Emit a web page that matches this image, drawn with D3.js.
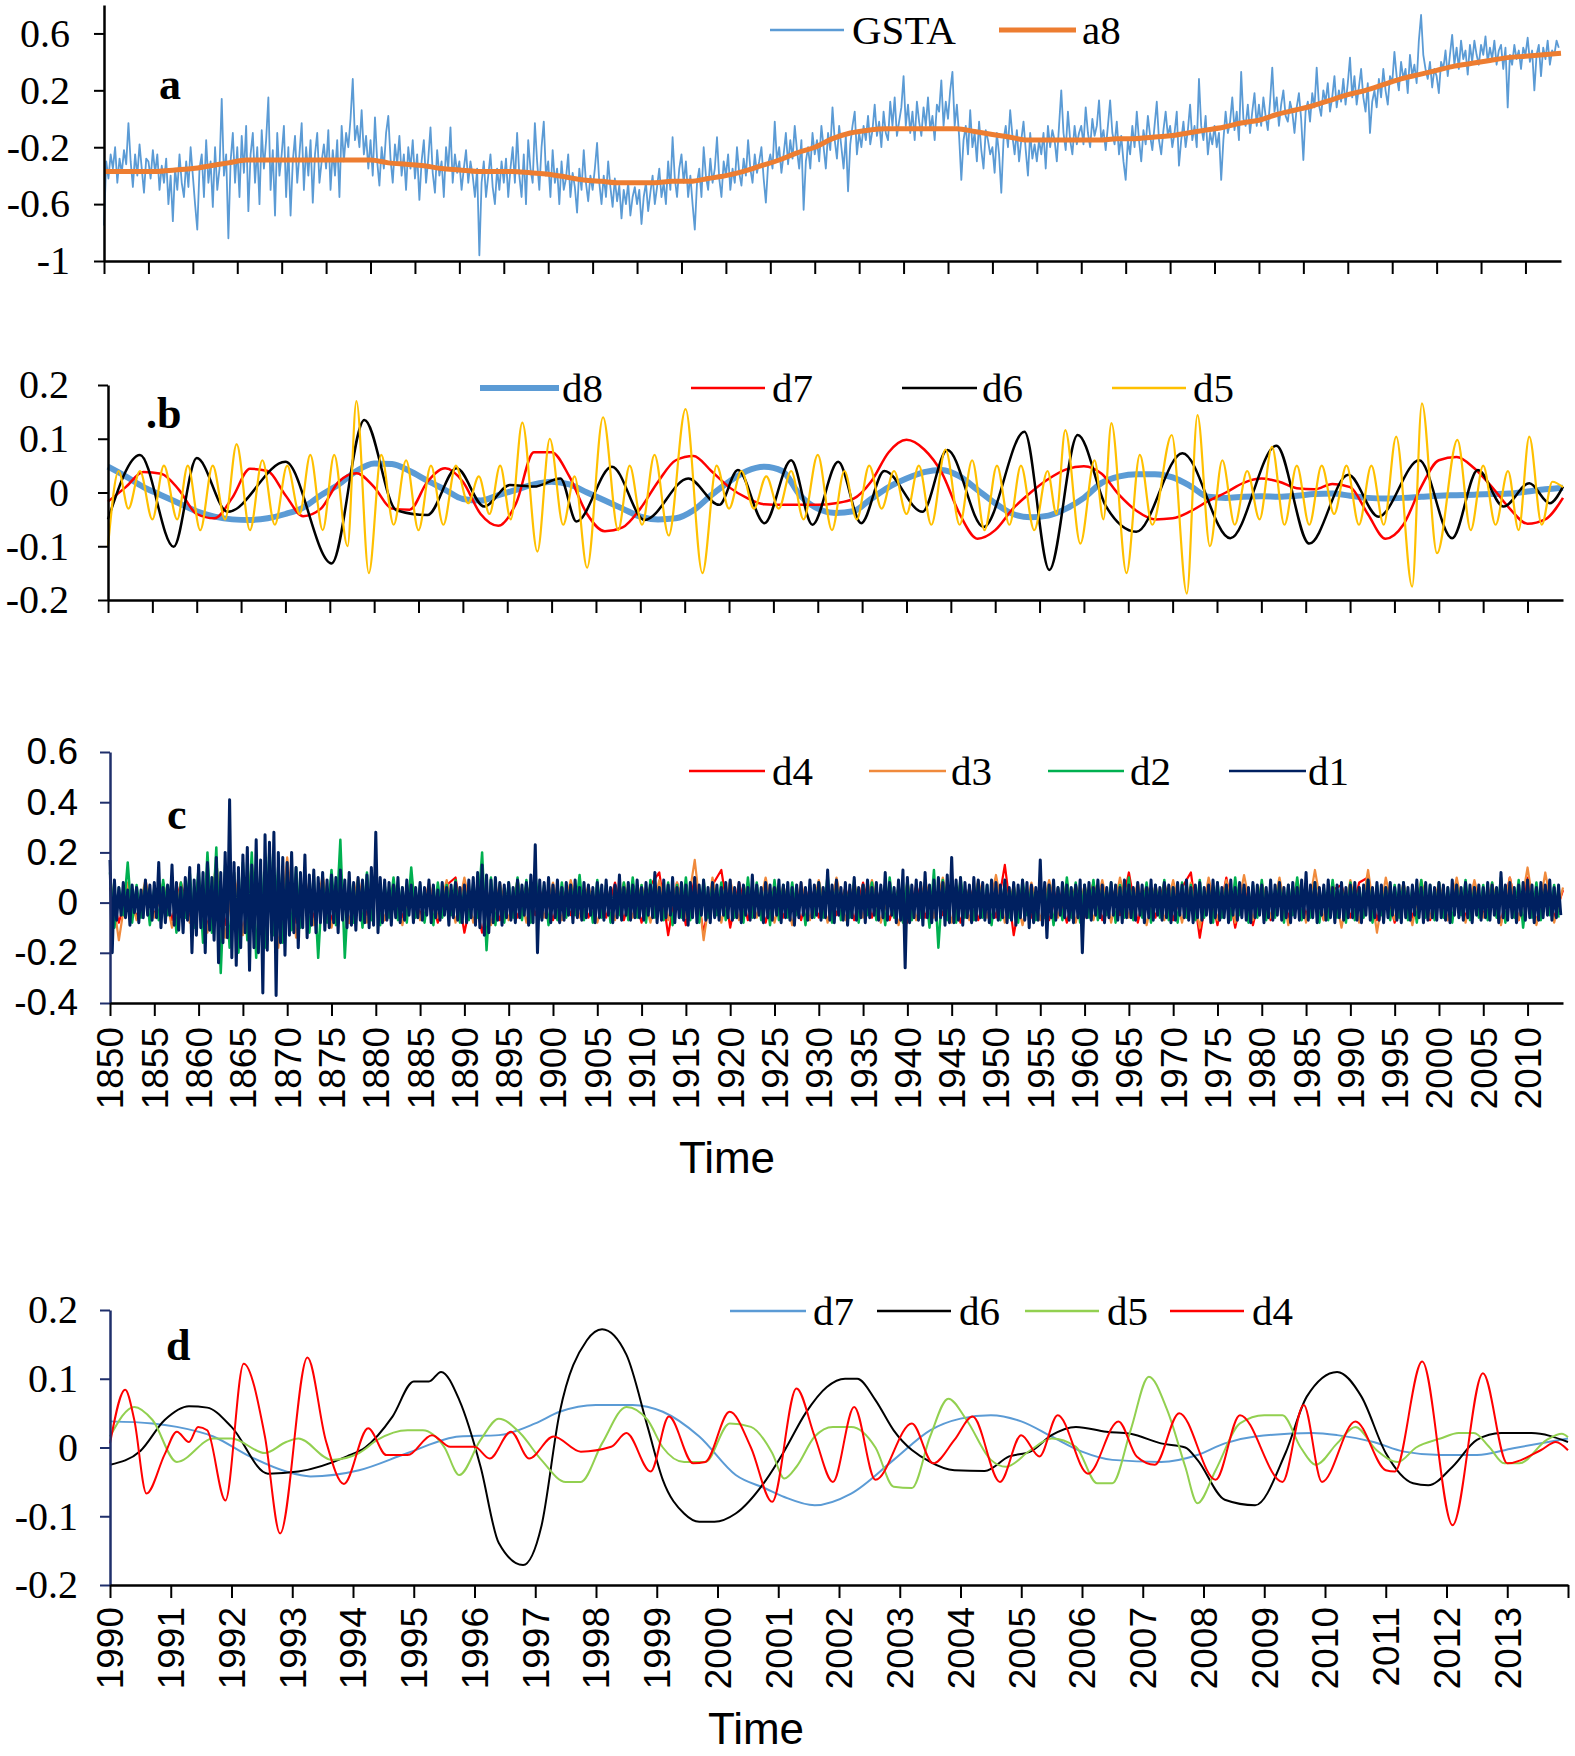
<!DOCTYPE html>
<html>
<head>
<meta charset="utf-8">
<script src="https://cdn.jsdelivr.net/npm/d3@7"></script>
<style>
  body { margin: 0; background: #fff; }
  svg { display: block; }
</style>
</head>
<body>
<svg id="chart" width="1575" height="1756"></svg>
<script>
// ---- data ----
// panel a : GSTA, quarterly from 1850
const gstaStart = 1850, gstaStep = 0.25;
const gsta = [
  -0.75,-0.30,-0.42,-0.25,-0.35,-0.20,-0.45,-0.28,-0.38,-0.22,-0.32,-0.03,-0.30,-0.48,-0.25,-0.40,-0.18,-0.35,-0.52,-0.28,
  -0.30,-0.42,-0.22,-0.38,-0.25,-0.50,-0.33,-0.45,-0.28,-0.60,-0.40,-0.72,-0.35,-0.50,-0.25,-0.45,-0.55,-0.30,-0.48,-0.20,
  -0.40,-0.60,-0.78,-0.35,-0.25,-0.55,-0.15,-0.45,-0.30,-0.62,-0.20,-0.50,-0.35,0.14,-0.40,-0.25,-0.84,-0.30,-0.10,-0.45,
  -0.20,-0.55,-0.12,-0.38,-0.05,-0.65,-0.25,-0.10,-0.45,-0.20,-0.60,-0.08,-0.35,-0.15,0.15,-0.50,-0.22,-0.68,-0.10,-0.40,
  -0.25,-0.05,-0.55,-0.20,-0.68,-0.30,-0.12,-0.45,-0.25,-0.03,-0.50,-0.20,-0.40,-0.15,-0.59,-0.25,-0.10,-0.45,-0.30,-0.18,
  -0.35,-0.08,-0.50,-0.22,-0.40,-0.15,-0.55,-0.05,-0.30,-0.10,-0.20,0.00,0.28,-0.15,-0.05,-0.20,0.06,-0.25,-0.12,-0.35,
  -0.15,-0.40,0.01,-0.30,-0.47,-0.20,-0.35,-0.10,0.02,-0.28,-0.45,-0.18,-0.32,-0.12,-0.40,-0.25,-0.50,-0.20,-0.35,-0.15,
  -0.42,-0.25,-0.57,-0.30,-0.15,-0.45,-0.28,-0.06,-0.38,-0.52,-0.22,-0.40,-0.30,-0.55,-0.20,-0.35,-0.06,-0.45,-0.25,-0.38,
  -0.30,-0.50,-0.35,-0.22,-0.45,-0.30,-0.40,-0.55,-0.35,-0.96,-0.45,-0.30,-0.55,-0.40,-0.25,-0.48,-0.60,-0.35,-0.50,-0.30,
  -0.45,-0.28,-0.55,-0.35,-0.20,-0.45,-0.10,-0.40,-0.55,-0.25,-0.60,-0.15,-0.35,-0.45,-0.03,-0.30,-0.50,-0.20,-0.02,-0.40,
  -0.30,-0.55,-0.22,-0.45,-0.35,-0.60,-0.30,-0.50,-0.42,-0.25,-0.55,-0.38,-0.48,-0.66,-0.35,-0.50,-0.22,-0.45,-0.58,-0.40,
  -0.50,-0.35,-0.17,-0.45,-0.60,-0.40,-0.55,-0.30,-0.48,-0.62,-0.42,-0.58,-0.47,-0.70,-0.50,-0.60,-0.45,-0.68,-0.55,-0.48,
  -0.60,-0.50,-0.74,-0.55,-0.45,-0.65,-0.52,-0.40,-0.60,-0.48,-0.35,-0.55,-0.45,-0.60,-0.30,-0.50,-0.13,-0.42,-0.55,-0.35,
  -0.25,-0.45,-0.30,-0.55,-0.40,-0.60,-0.78,-0.45,-0.35,-0.55,-0.20,-0.40,-0.50,-0.28,-0.45,-0.35,-0.13,-0.42,-0.55,-0.30,
  -0.40,-0.25,-0.50,-0.35,-0.45,-0.20,-0.38,-0.47,-0.28,-0.40,-0.15,-0.35,-0.45,-0.25,-0.38,-0.30,-0.20,-0.42,-0.59,-0.32,
  -0.25,-0.35,-0.02,-0.30,-0.20,-0.38,-0.25,-0.10,-0.32,-0.15,-0.28,-0.05,-0.22,-0.35,-0.15,-0.64,-0.30,-0.20,-0.35,-0.10,
  -0.25,-0.15,-0.30,-0.05,-0.20,-0.35,-0.10,-0.22,0.08,-0.15,-0.28,-0.05,-0.20,-0.35,-0.12,-0.51,-0.18,-0.05,0.05,-0.25,
  -0.10,-0.20,-0.05,-0.15,0.02,-0.18,-0.08,0.10,-0.12,-0.02,-0.20,0.05,-0.10,-0.15,0.12,-0.05,0.15,-0.12,-0.02,0.08,
  0.30,-0.05,0.10,-0.10,0.05,-0.15,0.12,-0.02,-0.12,0.08,-0.05,0.15,-0.08,0.02,-0.15,0.10,0.05,0.27,-0.05,0.12,
  0.00,0.20,0.33,-0.05,0.10,-0.12,-0.43,-0.15,-0.05,-0.25,0.06,-0.20,-0.10,-0.30,-0.02,-0.22,-0.35,-0.08,-0.15,-0.25,
  -0.20,-0.38,-0.10,-0.25,-0.52,-0.15,-0.05,-0.20,0.06,-0.12,-0.25,-0.08,-0.30,-0.15,-0.02,-0.22,-0.40,-0.10,-0.28,-0.18,
  -0.30,-0.15,-0.25,-0.10,-0.35,-0.05,-0.20,-0.08,-0.15,-0.30,-0.05,0.20,-0.10,-0.22,0.05,-0.15,-0.25,-0.05,-0.18,-0.10,
  -0.05,-0.18,0.08,-0.10,-0.20,0.00,-0.12,-0.05,0.13,-0.15,-0.08,-0.22,-0.05,0.13,-0.10,-0.18,-0.02,-0.25,-0.12,-0.30,
  -0.43,-0.15,-0.25,-0.05,-0.20,0.05,-0.15,-0.30,-0.08,-0.18,0.02,-0.12,-0.22,-0.05,0.12,-0.15,-0.25,-0.08,0.05,-0.12,
  -0.05,-0.20,-0.10,0.05,-0.33,-0.15,-0.02,-0.20,-0.08,0.10,-0.15,-0.05,-0.20,0.28,-0.05,-0.15,0.02,-0.25,-0.10,-0.18,
  -0.05,-0.20,-0.10,-0.43,-0.15,0.05,-0.10,-0.02,0.15,-0.08,0.05,-0.15,0.33,0.00,-0.05,0.10,-0.10,0.05,0.18,-0.05,
  0.10,-0.05,0.15,0.02,-0.08,0.12,0.36,0.05,0.15,-0.05,0.10,0.20,0.02,-0.02,0.12,0.05,-0.10,0.08,0.18,0.00,
  -0.29,0.05,0.12,-0.02,0.18,0.08,0.36,0.10,0.02,0.20,0.12,0.25,0.05,0.15,0.30,0.08,0.20,0.12,0.28,0.10,
  0.25,0.43,0.15,0.30,0.10,0.22,0.35,0.15,0.05,0.25,-0.10,0.12,0.20,0.08,0.28,0.15,0.35,0.20,0.10,0.30,
  0.25,0.47,0.30,0.20,0.40,0.28,0.35,0.18,0.45,0.30,0.38,0.25,0.55,0.73,0.45,0.35,0.28,0.40,0.22,0.35,
  0.30,0.18,0.40,0.35,0.48,0.30,0.45,0.59,0.38,0.50,0.35,0.55,0.42,0.48,0.31,0.52,0.40,0.55,0.45,0.38,
  0.52,0.45,0.58,0.40,0.50,0.42,0.55,0.38,0.48,0.52,0.35,0.50,0.08,0.45,0.38,0.52,0.42,0.48,0.35,0.50,
  0.45,0.57,0.40,0.48,0.20,0.45,0.52,0.30,0.50,0.42,0.55,0.38,0.48,0.45,0.55,0.50
];
// panel a : a8, every 2 years from 1850
const a8Start = 1850, a8Step = 2;
const a8 = [
  -0.37,-0.37,-0.37,-0.37,-0.36,-0.35,-0.33,-0.31,-0.29,-0.29,-0.29,-0.29,-0.29,-0.29,-0.29,-0.29,
  -0.31,-0.32,-0.33,-0.35,-0.36,-0.37,-0.37,-0.37,-0.38,-0.39,-0.41,-0.43,-0.44,-0.45,-0.45,-0.45,
  -0.44,-0.44,-0.42,-0.40,-0.37,-0.33,-0.29,-0.24,-0.20,-0.14,-0.10,-0.08,-0.07,-0.07,-0.07,-0.07,
  -0.07,-0.09,-0.11,-0.13,-0.15,-0.15,-0.15,-0.15,-0.15,-0.14,-0.14,-0.13,-0.12,-0.10,-0.08,-0.06,
  -0.03,-0.01,0.03,0.06,0.09,0.13,0.17,0.20,0.24,0.28,0.31,0.34,0.37,0.39,0.41,0.43,0.44,0.45,0.46
];

// panel b : d8 and d7 every 2 years from 1850
const bStart = 1850, bStep = 2;
const bD8 = [
  0.048,0.030,0.010,-0.005,-0.020,-0.035,-0.045,-0.050,-0.051,-0.048,-0.040,-0.028,-0.005,0.015,0.040,0.054,
  0.053,0.040,0.022,0.005,-0.012,-0.015,-0.005,0.005,0.015,0.020,0.015,0.000,-0.015,-0.030,-0.045,-0.050,
  -0.048,-0.033,-0.005,0.020,0.040,0.048,0.040,-0.005,-0.030,-0.038,-0.035,-0.012,0.010,0.026,0.038,0.042,
  0.030,0.005,-0.020,-0.040,-0.046,-0.043,-0.030,-0.010,0.018,0.030,0.034,0.034,0.028,0.012,-0.008,-0.010,
  -0.008,-0.007,-0.008,-0.006,-0.003,-0.002,-0.006,-0.010,-0.011,-0.010,-0.008,-0.006,-0.005,-0.004,-0.003,-0.002,0.002,0.006,0.009
];
const bD7 = [
  -0.017,0.010,0.038,0.035,0.005,-0.040,-0.048,-0.010,0.044,0.040,-0.005,-0.044,-0.030,0.020,0.036,0.010,
  -0.030,-0.032,0.020,0.045,0.020,-0.040,-0.062,-0.020,0.075,0.075,0.030,-0.040,-0.072,-0.065,-0.030,0.020,
  0.060,0.068,0.040,0.010,-0.010,-0.022,-0.023,-0.023,-0.023,-0.020,-0.012,0.020,0.075,0.098,0.080,0.036,
  -0.040,-0.086,-0.070,-0.030,0.000,0.025,0.043,0.049,0.035,-0.005,-0.035,-0.050,-0.048,-0.035,-0.016,0.000,
  0.018,0.026,0.020,0.008,0.006,0.016,0.010,-0.040,-0.086,-0.060,0.010,0.060,0.066,0.045,0.010,-0.030,-0.058,-0.050,-0.010
];
// panel b : d6 and d5 turning points [year, value]
const bD6 = [
  [1850,-0.050],[1853.6,0.070],[1857.4,-0.101],[1860,0.064],[1863.5,-0.036],[1870,0.057],[1875.2,-0.132],
  [1878.9,0.135],[1882.5,-0.033],[1886,-0.042],[1889.3,0.045],[1892.4,-0.026],[1895.3,0.014],[1898,0.011],
  [1901,0.026],[1902.8,-0.054],[1906.8,0.048],[1910.5,-0.051],[1915.4,0.026],[1918.9,-0.023],[1921,0.042],
  [1924,-0.057],[1927,0.060],[1929.4,-0.060],[1932.3,0.057],[1934.9,-0.057],[1937.5,0.040],[1941.8,-0.036],
  [1944.6,0.079],[1948.7,-0.064],[1953.3,0.113],[1956.1,-0.144],[1959.3,0.107],[1962.5,-0.026],[1965.9,-0.073],
  [1971.1,0.073],[1976.5,-0.085],[1981.7,0.087],[1985.4,-0.095],[1989.8,0.033],[1993.2,-0.045],[1997.8,0.060],
  [2001.5,-0.085],[2004.4,0.042],[2007.3,-0.026],[2010.2,0.017],[2012.5,-0.020],[2014,0.011]
];
const bD5 = [
  [1850.0,-0.10],[1851.2,0.04],[1852.3,-0.03],[1853.6,0.04],[1855.0,-0.05],[1856.3,0.05],[1857.8,-0.05],
  [1859.0,0.05],[1860.4,-0.07],[1861.8,0.05],[1863.2,-0.05],[1864.5,0.09],[1866.0,-0.07],[1867.4,0.06],
  [1868.8,-0.06],[1870.2,0.05],[1871.6,-0.04],[1872.8,0.07],[1874.2,-0.07],[1875.5,0.07],[1877.0,-0.10],
  [1878.0,0.17],[1879.4,-0.15],[1880.8,0.07],[1882.2,-0.06],[1883.6,0.06],[1885.0,-0.07],[1886.4,0.05],
  [1887.8,-0.06],[1889.2,0.05],[1890.6,-0.02],[1891.8,0.03],[1893.0,-0.04],[1894.2,0.05],[1895.4,-0.05],
  [1896.7,0.13],[1898.4,-0.11],[1899.8,0.10],[1901.3,-0.06],[1902.6,0.03],[1904.0,-0.14],[1905.8,0.14],
  [1907.5,-0.07],[1908.8,0.05],[1910.2,-0.06],[1911.6,0.07],[1913.2,-0.08],[1915.1,0.155],[1917.0,-0.15],
  [1918.6,0.05],[1920.0,-0.03],[1921.4,0.04],[1922.8,-0.03],[1924.2,0.03],[1925.6,-0.03],[1927.0,0.04],
  [1928.4,-0.05],[1930.0,0.07],[1931.6,-0.07],[1933.0,0.04],[1934.4,-0.05],[1935.8,0.05],[1937.2,-0.03],
  [1938.6,0.04],[1940.0,-0.04],[1941.4,0.05],[1942.8,-0.06],[1944.4,0.08],[1946.0,-0.06],[1947.4,0.06],
  [1948.8,-0.07],[1950.2,0.05],[1951.6,-0.06],[1952.9,0.05],[1954.4,-0.07],[1955.9,0.04],[1956.9,-0.04],
  [1957.9,0.116],[1959.6,-0.095],[1961.2,0.06],[1962.2,-0.05],[1963.1,0.129],[1964.8,-0.150],[1966.3,0.07],
  [1967.7,-0.06],[1969.9,0.107],[1971.6,-0.188],[1972.8,0.144],[1974.2,-0.10],[1975.6,0.06],[1977.0,-0.06],
  [1978.4,0.04],[1979.8,-0.05],[1981.2,0.085],[1982.6,-0.06],[1984.0,0.05],[1985.4,-0.06],[1986.8,0.05],
  [1988.2,-0.04],[1989.6,0.05],[1991.0,-0.06],[1992.4,0.05],[1993.8,-0.06],[1995.2,0.104],[1997.0,-0.175],
  [1998.1,0.166],[1999.8,-0.113],[2002.1,0.098],[2003.6,-0.07],[2005.0,0.05],[2006.4,-0.06],[2007.8,0.04],
  [2009.0,-0.07],[2010.2,0.104],[2011.6,-0.06],[2012.8,0.02],[2014.0,0.01]
];

// panel c : d1 quarterly, d2 half-yearly, d3 and d4 yearly, from 1850
const cStart = 1850;
const cD1 = [
  0.17,-0.20,0.09,-0.07,0.06,-0.05,0.08,-0.06,0.05,-0.09,0.07,-0.04,0.06,-0.08,0.05,-0.06,0.09,-0.05,0.07,-0.07,
  0.08,-0.06,0.16,-0.10,0.06,-0.08,0.07,-0.05,0.15,-0.09,0.08,-0.11,0.06,-0.12,0.10,-0.07,0.14,-0.20,0.09,-0.13,
  0.15,-0.10,0.12,-0.20,0.16,-0.11,0.10,-0.15,0.18,-0.24,0.12,-0.16,0.20,-0.14,0.41,-0.22,0.16,-0.25,0.14,-0.18,
  0.19,-0.12,0.22,-0.27,0.15,-0.18,0.25,-0.20,0.17,-0.36,0.27,-0.19,0.24,-0.15,0.28,-0.37,0.20,-0.16,0.18,-0.21,
  0.16,-0.13,0.20,-0.12,0.14,-0.18,0.12,-0.10,0.19,-0.14,0.11,-0.09,0.13,-0.12,0.10,-0.08,0.12,-0.11,0.09,-0.10,
  0.11,-0.08,0.10,-0.12,0.13,-0.07,0.09,-0.10,0.12,-0.09,0.08,-0.11,0.10,-0.07,0.09,-0.08,0.11,-0.10,0.14,-0.09,
  0.28,-0.12,0.10,-0.08,0.09,-0.07,0.08,-0.09,0.07,-0.06,0.10,-0.08,0.06,-0.07,0.09,-0.05,0.07,-0.08,0.06,-0.06,
  0.08,-0.07,0.06,-0.05,0.09,-0.08,0.07,-0.06,0.05,-0.07,0.08,-0.05,0.06,-0.09,0.07,-0.06,0.08,-0.07,0.06,-0.08,
  0.07,-0.08,0.09,-0.06,0.10,-0.09,0.12,-0.10,0.15,-0.13,0.11,-0.12,0.09,-0.08,0.10,-0.07,0.08,-0.09,0.07,-0.06,
  0.08,-0.07,0.06,-0.08,0.09,-0.06,0.07,-0.05,0.08,-0.09,0.11,-0.08,0.23,-0.20,0.09,-0.07,0.08,-0.06,0.10,-0.08,
  0.07,-0.06,0.09,-0.08,0.06,-0.07,0.08,-0.05,0.07,-0.08,0.09,-0.06,0.06,-0.07,0.08,-0.06,0.07,-0.05,0.06,-0.08,
  0.08,-0.06,0.07,-0.07,0.09,-0.05,0.06,-0.08,0.07,-0.06,0.11,-0.07,0.06,-0.05,0.08,-0.07,0.07,-0.06,0.09,-0.06,
  0.06,-0.07,0.08,-0.05,0.07,-0.06,0.12,-0.08,0.06,-0.07,0.09,-0.06,0.07,-0.05,0.10,-0.08,0.06,-0.06,0.08,-0.07,
  0.07,-0.09,0.08,-0.06,0.10,-0.08,0.07,-0.05,0.09,-0.07,0.06,-0.08,0.08,-0.06,0.07,-0.07,0.06,-0.05,0.08,-0.06,
  0.09,-0.07,0.06,-0.06,0.08,-0.08,0.07,-0.05,0.06,-0.07,0.11,-0.06,0.07,-0.05,0.06,-0.08,0.08,-0.06,0.07,-0.07,
  0.06,-0.05,0.09,-0.08,0.07,-0.06,0.08,-0.07,0.06,-0.09,0.07,-0.06,0.08,-0.05,0.06,-0.07,0.09,-0.06,0.07,-0.05,
  0.08,-0.07,0.06,-0.06,0.13,-0.07,0.07,-0.08,0.09,-0.05,0.06,-0.07,0.08,-0.09,0.07,-0.06,0.10,-0.07,0.06,-0.06,
  0.07,-0.08,0.09,-0.06,0.06,-0.05,0.08,-0.07,0.07,-0.06,0.12,-0.07,0.08,-0.05,0.06,-0.08,0.09,-0.07,0.13,-0.26,
  0.10,-0.08,0.07,-0.06,0.09,-0.07,0.08,-0.09,0.12,-0.06,0.07,-0.08,0.09,-0.07,0.10,-0.06,0.08,-0.09,0.11,-0.08,
  0.18,-0.08,0.09,-0.07,0.10,-0.09,0.08,-0.06,0.07,-0.08,0.10,-0.07,0.09,-0.06,0.08,-0.07,0.07,-0.08,0.09,-0.06,
  0.08,-0.07,0.07,-0.06,0.09,-0.08,0.06,-0.07,0.08,-0.09,0.07,-0.06,0.09,-0.07,0.08,-0.10,0.07,-0.08,0.06,-0.07,
  0.17,-0.09,0.08,-0.14,0.07,-0.06,0.09,-0.07,0.06,-0.05,0.08,-0.06,0.07,-0.07,0.06,-0.08,0.07,-0.06,0.09,-0.20,
  0.07,-0.06,0.08,-0.07,0.06,-0.05,0.09,-0.06,0.07,-0.08,0.06,-0.06,0.08,-0.05,0.07,-0.07,0.06,-0.08,0.09,-0.06,
  0.07,-0.06,0.06,-0.07,0.08,-0.05,0.07,-0.08,0.06,-0.06,0.09,-0.07,0.07,-0.05,0.06,-0.07,0.08,-0.06,0.07,-0.08,
  0.06,-0.07,0.08,-0.05,0.07,-0.06,0.09,-0.07,0.06,-0.08,0.07,-0.06,0.08,-0.07,0.06,-0.05,0.07,-0.08,0.09,-0.06,
  0.08,-0.07,0.06,-0.06,0.07,-0.08,0.09,-0.05,0.06,-0.07,0.08,-0.06,0.07,-0.07,0.06,-0.08,0.08,-0.06,0.07,-0.05,
  0.07,-0.08,0.06,-0.06,0.09,-0.07,0.07,-0.05,0.08,-0.07,0.06,-0.06,0.07,-0.08,0.08,-0.06,0.06,-0.07,0.09,-0.06,
  0.12,-0.07,0.07,-0.06,0.08,-0.08,0.06,-0.05,0.07,-0.07,0.09,-0.06,0.06,-0.08,0.07,-0.06,0.08,-0.07,0.06,-0.06,
  0.07,-0.06,0.08,-0.07,0.06,-0.08,0.07,-0.05,0.09,-0.07,0.06,-0.06,0.08,-0.07,0.07,-0.08,0.06,-0.06,0.08,-0.05,
  0.06,-0.07,0.07,-0.08,0.08,-0.06,0.06,-0.07,0.07,-0.05,0.09,-0.06,0.06,-0.08,0.08,-0.07,0.07,-0.06,0.06,-0.07,
  0.08,-0.06,0.07,-0.07,0.06,-0.08,0.09,-0.05,0.07,-0.06,0.06,-0.07,0.08,-0.06,0.07,-0.08,0.06,-0.05,0.07,-0.07,
  0.06,-0.06,0.08,-0.07,0.07,-0.05,0.06,-0.08,0.12,-0.06,0.07,-0.07,0.08,-0.06,0.06,-0.08,0.07,-0.05,0.08,-0.07,
  0.09,-0.06,0.07,-0.08,0.06,-0.07,0.08,-0.06,0.07,-0.05,0.09,-0.07,0.06,-0.06,0.07,-0.05
];
const cD2 = [
  0.12,-0.10,0.06,-0.05,0.16,-0.08,0.07,-0.06,0.08,-0.09,
  0.06,-0.07,0.09,-0.05,0.10,-0.12,0.08,-0.06,0.12,-0.10,
  0.14,-0.16,0.20,-0.12,0.22,-0.28,0.15,-0.18,0.12,-0.20,
  0.16,-0.15,0.20,-0.22,0.14,-0.18,0.22,-0.13,0.15,-0.16,
  0.12,-0.11,0.14,-0.10,0.10,-0.12,0.11,-0.22,0.09,-0.08,
  0.13,-0.09,0.25,-0.22,0.10,-0.08,0.09,-0.10,0.12,-0.07,
  0.08,-0.09,0.07,-0.06,0.10,-0.07,0.06,-0.08,0.14,-0.06,
  0.07,-0.08,0.06,-0.09,0.08,-0.06,0.07,-0.05,0.09,-0.08,
  0.06,-0.07,0.08,-0.06,0.20,-0.19,0.10,-0.09,0.07,-0.08,
  0.08,-0.06,0.10,-0.07,0.09,-0.08,0.12,-0.06,0.07,-0.09,
  0.06,-0.07,0.08,-0.06,0.07,-0.05,0.11,-0.07,0.06,-0.08,
  0.09,-0.06,0.07,-0.08,0.06,-0.05,0.08,-0.07,0.10,-0.06,
  0.07,-0.08,0.09,-0.06,0.06,-0.07,0.08,-0.09,0.07,-0.06,
  0.10,-0.07,0.06,-0.08,0.09,-0.06,0.07,-0.05,0.08,-0.07,
  0.06,-0.06,0.07,-0.08,0.10,-0.06,0.08,-0.07,0.06,-0.09,
  0.09,-0.07,0.07,-0.06,0.08,-0.05,0.06,-0.09,0.07,-0.06,
  0.08,-0.06,0.11,-0.08,0.07,-0.07,0.06,-0.06,0.09,-0.08,
  0.07,-0.05,0.08,-0.07,0.06,-0.09,0.10,-0.06,0.07,-0.08,
  0.09,-0.07,0.06,-0.06,0.08,-0.10,0.13,-0.18,0.09,-0.07,
  0.07,-0.08,0.10,-0.06,0.06,-0.07,0.08,-0.06,0.07,-0.09,
  0.06,-0.07,0.08,-0.06,0.07,-0.08,0.09,-0.05,0.06,-0.07,
  0.08,-0.06,0.07,-0.09,0.06,-0.07,0.10,-0.06,0.08,-0.08,
  0.07,-0.06,0.09,-0.07,0.06,-0.05,0.08,-0.08,0.07,-0.06,
  0.10,-0.07,0.06,-0.06,0.08,-0.08,0.07,-0.06,0.09,-0.07,
  0.06,-0.08,0.08,-0.06,0.07,-0.07,0.09,-0.06,0.06,-0.08,
  0.08,-0.06,0.07,-0.07,0.10,-0.05,0.06,-0.08,0.07,-0.06,
  0.09,-0.07,0.06,-0.06,0.08,-0.08,0.07,-0.05,0.10,-0.07,
  0.07,-0.06,0.08,-0.08,0.06,-0.07,0.09,-0.06,0.07,-0.08,
  0.08,-0.07,0.06,-0.06,0.09,-0.08,0.07,-0.05,0.06,-0.07,
  0.07,-0.06,0.08,-0.07,0.06,-0.08,0.09,-0.06,0.07,-0.07,
  0.08,-0.06,0.06,-0.08,0.07,-0.05,0.09,-0.07,0.06,-0.06,
  0.07,-0.07,0.08,-0.06,0.10,-0.08,0.06,-0.06,0.09,-0.10,
  0.07,-0.06,0.08,-0.07,0.06,-0.05,0.07,-0.06
];
const cD3 = [
  0.10,-0.15,0.08,-0.07,0.09,-0.06,0.08,-0.10,0.07,-0.08,
  0.10,-0.12,0.16,-0.14,0.12,-0.13,0.15,-0.12,0.14,-0.18,
  0.18,-0.14,0.10,-0.09,0.11,-0.10,0.09,-0.08,0.10,-0.08,
  0.09,-0.07,0.08,-0.09,0.10,-0.07,0.08,-0.06,0.09,-0.08,
  0.10,-0.08,0.07,-0.09,0.08,-0.07,0.09,-0.08,0.07,-0.06,
  0.08,-0.07,0.09,-0.06,0.07,-0.08,0.06,-0.07,0.08,-0.06,
  0.07,-0.08,0.09,-0.07,0.08,-0.06,0.17,-0.15,0.10,-0.08,
  0.09,-0.07,0.08,-0.06,0.10,-0.08,0.07,-0.09,0.08,-0.07,
  0.09,-0.08,0.10,-0.07,0.08,-0.06,0.09,-0.08,0.07,-0.09,
  0.08,-0.07,0.09,-0.06,0.10,-0.08,0.08,-0.07,0.09,-0.06,
  0.11,-0.08,0.07,-0.09,0.08,-0.07,0.09,-0.06,0.08,-0.08,
  0.07,-0.07,0.09,-0.08,0.10,-0.06,0.08,-0.09,0.07,-0.07,
  0.09,-0.08,0.08,-0.10,0.10,-0.07,0.09,-0.08,0.11,-0.07,
  0.08,-0.06,0.10,-0.09,0.09,-0.08,0.13,-0.07,0.08,-0.10,
  0.09,-0.08,0.13,-0.12,0.10,-0.07,0.08,-0.09,0.09,-0.06,
  0.08,-0.07,0.10,-0.08,0.09,-0.06,0.08,-0.09,0.10,-0.07,
  0.14,-0.09,0.12,-0.08,0.06
];
const cD4 = [
  0.06,-0.08,0.05,-0.06,0.07,-0.05,0.06,-0.07,0.08,-0.06,
  0.09,-0.10,0.11,-0.09,0.10,-0.12,0.08,-0.10,0.12,-0.09,
  0.09,-0.08,0.07,-0.06,0.08,-0.07,0.06,-0.08,0.07,-0.05,
  0.06,-0.07,0.05,-0.06,0.07,-0.05,0.06,-0.08,0.07,0.10,
  -0.12,0.05,-0.12,0.06,-0.07,0.05,-0.06,0.07,-0.05,0.06,
  -0.07,0.06,-0.05,0.07,-0.06,0.05,-0.06,0.08,-0.07,0.06,
  -0.08,0.07,0.12,-0.13,0.08,-0.09,0.10,-0.12,0.07,0.13,
  -0.10,0.08,-0.07,0.06,-0.08,0.07,-0.06,0.05,-0.07,0.06,
  -0.06,0.07,-0.05,0.06,-0.07,0.08,-0.06,0.05,-0.07,0.06,
  -0.08,0.07,-0.06,0.06,-0.05,0.07,-0.08,0.06,-0.07,0.05,
  -0.06,0.15,-0.13,0.07,-0.06,0.05,-0.07,0.06,-0.08,0.07,
  -0.06,0.08,-0.07,0.06,-0.05,0.12,-0.08,0.07,-0.06,0.08,
  -0.07,0.06,0.12,-0.14,0.08,-0.09,0.10,-0.10,0.07,-0.09,
  0.06,-0.07,0.08,-0.06,0.07,-0.05,0.06,-0.07,0.05,0.07,
  -0.06,0.08,0.10,-0.07,0.06,-0.08,0.07,-0.06,0.08,-0.07,
  0.06,-0.07,0.08,-0.06,0.07,-0.05,0.06,-0.08,0.10,-0.07,
  0.10,-0.08,0.07,-0.06,0.05
];

// panel d : 1990-2014, turning points [year, value]
const dD7 = [
  [1990.0,0.038],[1990.7,0.035],[1991.1,0.030],[1991.7,0.016],[1992.3,-0.013],[1992.9,-0.035],[1993.3,-0.042],
  [1994.1,-0.033],[1994.9,-0.008],[1995.75,0.016],[1996.4,0.018],[1997.0,0.035],[1997.4,0.052],[1998.0,0.062],
  [1998.6,0.062],[1999.1,0.052],[1999.7,0.016],[2000.3,-0.040],[2000.8,-0.060],[2001.1,-0.072],[2001.6,-0.084],
  [2002.2,-0.067],[2002.9,-0.018],[2003.5,0.025],[2004.0,0.042],[2004.5,0.047],[2005.0,0.038],[2005.5,0.016],
  [2006.0,-0.006],[2006.5,-0.018],[2007.3,-0.021],[2007.9,-0.011],[2008.35,0.006],[2008.85,0.016],[2009.8,0.021],
  [2010.2,0.018],[2010.8,0.008],[2011.3,-0.006],[2011.9,-0.011],[2012.5,-0.011],[2013.1,-0.001],[2014.0,0.013]
];
const dD6 = [
  [1990.0,-0.025],[1990.5,-0.005],[1990.9,0.040],[1991.3,0.060],[1991.6,0.058],[1992.0,0.030],[1992.6,-0.038],
  [1993.1,-0.035],[1993.9,-0.013],[1994.2,0.000],[1994.65,0.045],[1995.0,0.096],[1995.25,0.096],[1995.45,0.110],
  [1995.75,0.069],[1996.1,-0.028],[1996.4,-0.139],[1996.8,-0.171],[1997.1,-0.115],[1997.4,0.050],[1997.85,0.156],
  [1998.1,0.172],[1998.5,0.135],[1998.85,0.030],[1999.1,-0.047],[1999.45,-0.096],[1999.7,-0.108],[1999.95,-0.108],
  [2000.3,-0.096],[2000.8,-0.047],[2001.1,-0.005],[2001.45,0.050],[2001.8,0.088],[2002.1,0.100],[2002.3,0.100],
  [2002.6,0.069],[2002.9,0.025],[2003.5,-0.021],[2003.9,-0.033],[2004.4,-0.034],[2004.8,-0.013],[2005.15,-0.006],
  [2005.5,0.018],[2005.9,0.030],[2006.4,0.023],[2006.8,0.020],[2007.3,0.006],[2007.7,0.000],[2007.9,-0.018],
  [2008.35,-0.076],[2008.85,-0.084],[2009.35,-0.008],[2009.7,0.074],[2010.2,0.110],[2010.6,0.074],[2011.0,-0.008],
  [2011.45,-0.052],[2011.7,-0.055],[2012.1,-0.028],[2012.5,0.011],[2012.9,0.021],[2013.4,0.021],[2014.0,0.008]
];
const dD5 = [
  [1990.0,0.016],[1990.4,0.059],[1990.7,0.040],[1991.1,-0.021],[1991.7,0.013],[1992.0,0.013],[1992.55,-0.008],
  [1992.9,0.008],[1993.1,0.013],[1993.65,-0.018],[1994.1,-0.008],[1994.4,0.011],[1994.9,0.025],[1995.15,0.025],
  [1995.5,0.001],[1995.75,-0.040],[1996.1,0.011],[1996.4,0.042],[1996.75,0.021],[1997.1,-0.018],[1997.5,-0.050],
  [1997.75,-0.050],[1998.1,0.006],[1998.5,0.059],[1998.85,0.040],[1999.1,0.000],[1999.45,-0.021],[1999.8,-0.021],
  [2000.2,0.035],[2000.55,0.030],[2000.9,-0.008],[2001.1,-0.045],[2001.3,-0.028],[2001.6,0.016],[2001.9,0.030],
  [2002.2,0.030],[2002.6,0.000],[2002.9,-0.057],[2003.2,-0.059],[2003.5,0.016],[2003.8,0.071],[2004.1,0.040],
  [2004.5,-0.018],[2004.75,-0.028],[2005.15,-0.004],[2005.5,0.013],[2005.9,0.001],[2006.25,-0.052],[2006.5,-0.052],
  [2006.8,0.025],[2007.1,0.103],[2007.4,0.055],[2007.7,-0.028],[2007.9,-0.081],[2008.2,-0.033],[2008.6,0.035],
  [2009.0,0.047],[2009.3,0.047],[2009.6,0.000],[2009.85,-0.025],[2010.2,0.006],[2010.5,0.030],[2010.85,-0.004],
  [2011.2,-0.021],[2011.5,0.000],[2011.9,0.013],[2012.2,0.021],[2012.45,0.021],[2012.7,0.001],[2012.95,-0.023],
  [2013.2,-0.023],[2013.65,0.011],[2013.9,0.020],[2014.0,0.015]
];
const dD4 = [
  [1990.0,0.006],[1990.25,0.084],[1990.4,0.040],[1990.6,-0.067],[1990.9,-0.010],[1991.1,0.023],[1991.3,0.008],
  [1991.45,0.030],[1991.6,0.025],[1991.9,-0.077],[1992.2,0.122],[1992.55,0.016],[1992.8,-0.125],[1993.25,0.131],
  [1993.55,0.011],[1993.85,-0.053],[1994.25,0.028],[1994.55,-0.011],[1994.9,-0.011],[1995.3,0.018],[1995.6,0.001],
  [1996.0,0.001],[1996.25,-0.016],[1996.6,0.023],[1996.9,-0.016],[1997.3,0.016],[1997.75,-0.006],[1998.25,0.001],
  [1998.5,0.021],[1998.9,-0.035],[1999.2,0.045],[1999.6,-0.023],[1999.8,-0.021],[2000.2,0.052],[2000.55,0.000],
  [2000.9,-0.079],[2001.3,0.086],[2001.6,0.016],[2001.9,-0.050],[2002.25,0.059],[2002.6,-0.047],[2003.2,0.035],
  [2003.55,-0.023],[2003.9,0.011],[2004.2,0.045],[2004.65,-0.050],[2005.0,0.018],[2005.3,-0.013],[2005.6,0.047],
  [2006.1,-0.038],[2006.6,0.038],[2006.9,-0.013],[2007.2,-0.025],[2007.6,0.050],[2008.2,-0.047],[2008.6,0.047],
  [2009.3,-0.050],[2009.65,0.062],[2009.95,-0.050],[2010.5,0.038],[2011.0,-0.033],[2011.15,-0.035],[2011.6,0.125],
  [2012.1,-0.113],[2012.6,0.108],[2013.0,-0.023],[2013.55,-0.004],[2013.8,0.008],[2014.0,-0.004]
];

// tick labels
const aTicks = [0.6, 0.2, -0.2, -0.6, -1];
const bTicks = [0.2, 0.1, 0, -0.1, -0.2];
const cTicks = [0.6, 0.4, 0.2, 0, -0.2, -0.4];
const dTicks = [0.2, 0.1, 0, -0.1, -0.2];
const longYears = d3.range(1850, 2011, 5);
const shortYears = d3.range(1990, 2015, 1);

// ---- drawing ----
const SERIF = '"Liberation Serif","Times New Roman",serif';
const SANS = '"Liberation Sans",Arial,sans-serif';
const svg = d3.select('#chart');

const even = (vals, start, step) => vals.map((v, i) => [start + i * step, v]);
const fmt = v => String(+v.toFixed(1));

function drawPanel(p) {
  const g = svg.append('g');
  const x = d3.scaleLinear().domain(p.xDomain).range([p.x0, p.x1]);
  const y = d3.scaleLinear().domain(p.yDomain).range(p.yRange);

  // series
  p.series.forEach(s => {
    const line = d3.line().x(d => x(d[0])).y(d => y(d[1])).curve(s.smooth ? d3.curveMonotoneX : d3.curveLinear);
    g.append('path').datum(s.data)
      .attr('fill', 'none').attr('stroke', s.color).attr('stroke-width', s.width)
      .attr('stroke-linejoin', 'round').attr('d', line);
  });

  // y axis
  const ya = g.append('g').attr('transform', `translate(${p.x0},0)`)
    .call(d3.axisLeft(y).tickValues(p.yTicks).tickSize(10).tickSizeOuter(0).tickPadding(p.yPad).tickFormat(fmt));
  ya.select('.domain').attr('stroke', p.yColor).attr('stroke-width', 2.5);
  ya.selectAll('.tick line').attr('stroke', p.yColor).attr('stroke-width', 2);
  ya.selectAll('.tick text').attr('fill', '#000').style('font-family', p.yFont).style('font-size', p.yFontSize + 'px');

  // x axis
  const xa = g.append('g').attr('transform', `translate(0,${p.yRange[0]})`)
    .call(d3.axisBottom(x).tickValues(p.xTicks).tickSize(13).tickSizeOuter(0)
      .tickFormat(p.xLabels ? (d => (p.xLabelSet.includes(d) ? String(d) : '')) : () => ''));
  xa.select('.domain').attr('stroke', '#000').attr('stroke-width', 2.5);
  xa.selectAll('.tick line').attr('stroke', '#000').attr('stroke-width', 2);
  if (p.xLabels) {
    xa.selectAll('.tick text')
      .attr('fill', '#000').attr('y', 0).attr('x', -p.xLabelGap).attr('dy', '0.35em')
      .attr('transform', 'rotate(-90)').style('text-anchor', 'end')
      .style('font-family', SANS).style('font-size', '37px');
  }

  // legend
  p.legend.forEach(l => {
    g.append('line').attr('x1', l.x1).attr('x2', l.x2).attr('y1', p.legendY).attr('y2', p.legendY)
      .attr('stroke', l.color).attr('stroke-width', l.width);
    g.append('text').attr('x', l.tx).attr('y', p.legendY).attr('dy', '0.35em')
      .style('font-family', SERIF).style('font-size', '41px').text(l.name);
  });

  // panel letter
  g.append('text').attr('x', p.letter.x).attr('y', p.letter.y)
    .style('font-family', SERIF).style('font-weight', 'bold').style('font-size', '44px').text(p.letter.t);

  if (p.title) {
    g.append('text').attr('x', p.title.x).attr('y', p.title.y).attr('text-anchor', 'middle')
      .style('font-family', SANS).style('font-size', '44px').text('Time');
  }
}

// panel a
drawPanel({
  xDomain: [1850, 2014], x0: 104, x1: 1561, yDomain: [-1, 0.8], yRange: [261, 5],
  yTicks: aTicks, yPad: 24, yFont: SERIF, yFontSize: 40, yColor: '#000',
  xTicks: longYears, xLabels: false,
  series: [
    { data: even(gsta, gstaStart, gstaStep), color: '#5b9bd5', width: 1.8 },
    { data: even(a8, a8Start, a8Step), color: '#ed7d31', width: 5, smooth: true }
  ],
  legendY: 30,
  legend: [
    { name: 'GSTA', color: '#5b9bd5', width: 2.5, x1: 770, x2: 844, tx: 852 },
    { name: 'a8', color: '#ed7d31', width: 5, x1: 999, x2: 1076, tx: 1082 }
  ],
  letter: { t: 'a', x: 159, y: 99 }
});

// panel b
drawPanel({
  xDomain: [1850, 2014], x0: 108, x1: 1563, yDomain: [-0.2, 0.2], yRange: [600, 385],
  yTicks: bTicks, yPad: 29, yFont: SERIF, yFontSize: 40, yColor: '#000',
  xTicks: longYears, xLabels: false,
  series: [
    { data: even(bD8, bStart, bStep), color: '#5b9bd5', width: 6, smooth: true },
    { data: even(bD7, bStart, bStep), color: '#ff0000', width: 2.5, smooth: true },
    { data: bD6, color: '#000000', width: 2.5, smooth: true },
    { data: bD5, color: '#ffc000', width: 2.2, smooth: true }
  ],
  legendY: 388,
  legend: [
    { name: 'd8', color: '#5b9bd5', width: 6, x1: 480, x2: 559, tx: 562 },
    { name: 'd7', color: '#ff0000', width: 2.5, x1: 691, x2: 765, tx: 772 },
    { name: 'd6', color: '#000000', width: 2.5, x1: 902, x2: 977, tx: 982 },
    { name: 'd5', color: '#ffc000', width: 2.5, x1: 1112, x2: 1186, tx: 1193 }
  ],
  letter: { t: '.b', x: 146, y: 428 }
});

// panel c
drawPanel({
  xDomain: [1850, 2014], x0: 110, x1: 1563, yDomain: [-0.4, 0.6], yRange: [1003, 752],
  yTicks: cTicks, yPad: 22, yFont: SANS, yFontSize: 37, yColor: '#1f2f6b',
  xTicks: longYears, xLabels: true, xLabelSet: longYears, xLabelGap: 24,
  series: [
    { data: even(cD4, cStart, 1), color: '#ff0000', width: 2.2 },
    { data: even(cD3, cStart, 1), color: '#f08a3c', width: 2.2 },
    { data: even(cD2, cStart, 0.5), color: '#00b050', width: 2.5 },
    { data: even(cD1, cStart, 0.25), color: '#002060', width: 3 }
  ],
  legendY: 771,
  legend: [
    { name: 'd4', color: '#ff0000', width: 2.5, x1: 689, x2: 765, tx: 772 },
    { name: 'd3', color: '#f08a3c', width: 2.5, x1: 869, x2: 946, tx: 951 },
    { name: 'd2', color: '#00b050', width: 2.5, x1: 1048, x2: 1124, tx: 1130 },
    { name: 'd1', color: '#002060', width: 2.5, x1: 1229, x2: 1306, tx: 1308 }
  ],
  letter: { t: 'c', x: 167, y: 829 },
  title: { x: 727, y: 1173 }
});

// panel d
drawPanel({
  xDomain: [1990, 2014], x0: 110, x1: 1568, yDomain: [-0.2, 0.2], yRange: [1585, 1310],
  yTicks: dTicks, yPad: 22, yFont: SERIF, yFontSize: 40, yColor: '#1f2f6b',
  xTicks: shortYears, xLabels: true, xLabelSet: d3.range(1990, 2014), xLabelGap: 22,
  series: [
    { data: dD7, color: '#5b9bd5', width: 2, smooth: true },
    { data: dD6, color: '#000000', width: 2, smooth: true },
    { data: dD5, color: '#92d050', width: 2, smooth: true },
    { data: dD4, color: '#ff0000', width: 2, smooth: true }
  ],
  legendY: 1311,
  legend: [
    { name: 'd7', color: '#5b9bd5', width: 2.5, x1: 730, x2: 806, tx: 813 },
    { name: 'd6', color: '#000000', width: 2.5, x1: 877, x2: 951, tx: 959 },
    { name: 'd5', color: '#92d050', width: 2.5, x1: 1025, x2: 1099, tx: 1107 },
    { name: 'd4', color: '#ff0000', width: 2.5, x1: 1170, x2: 1244, tx: 1252 }
  ],
  letter: { t: 'd', x: 166, y: 1360 },
  title: { x: 756, y: 1744 }
});
</script>
</body>
</html>
